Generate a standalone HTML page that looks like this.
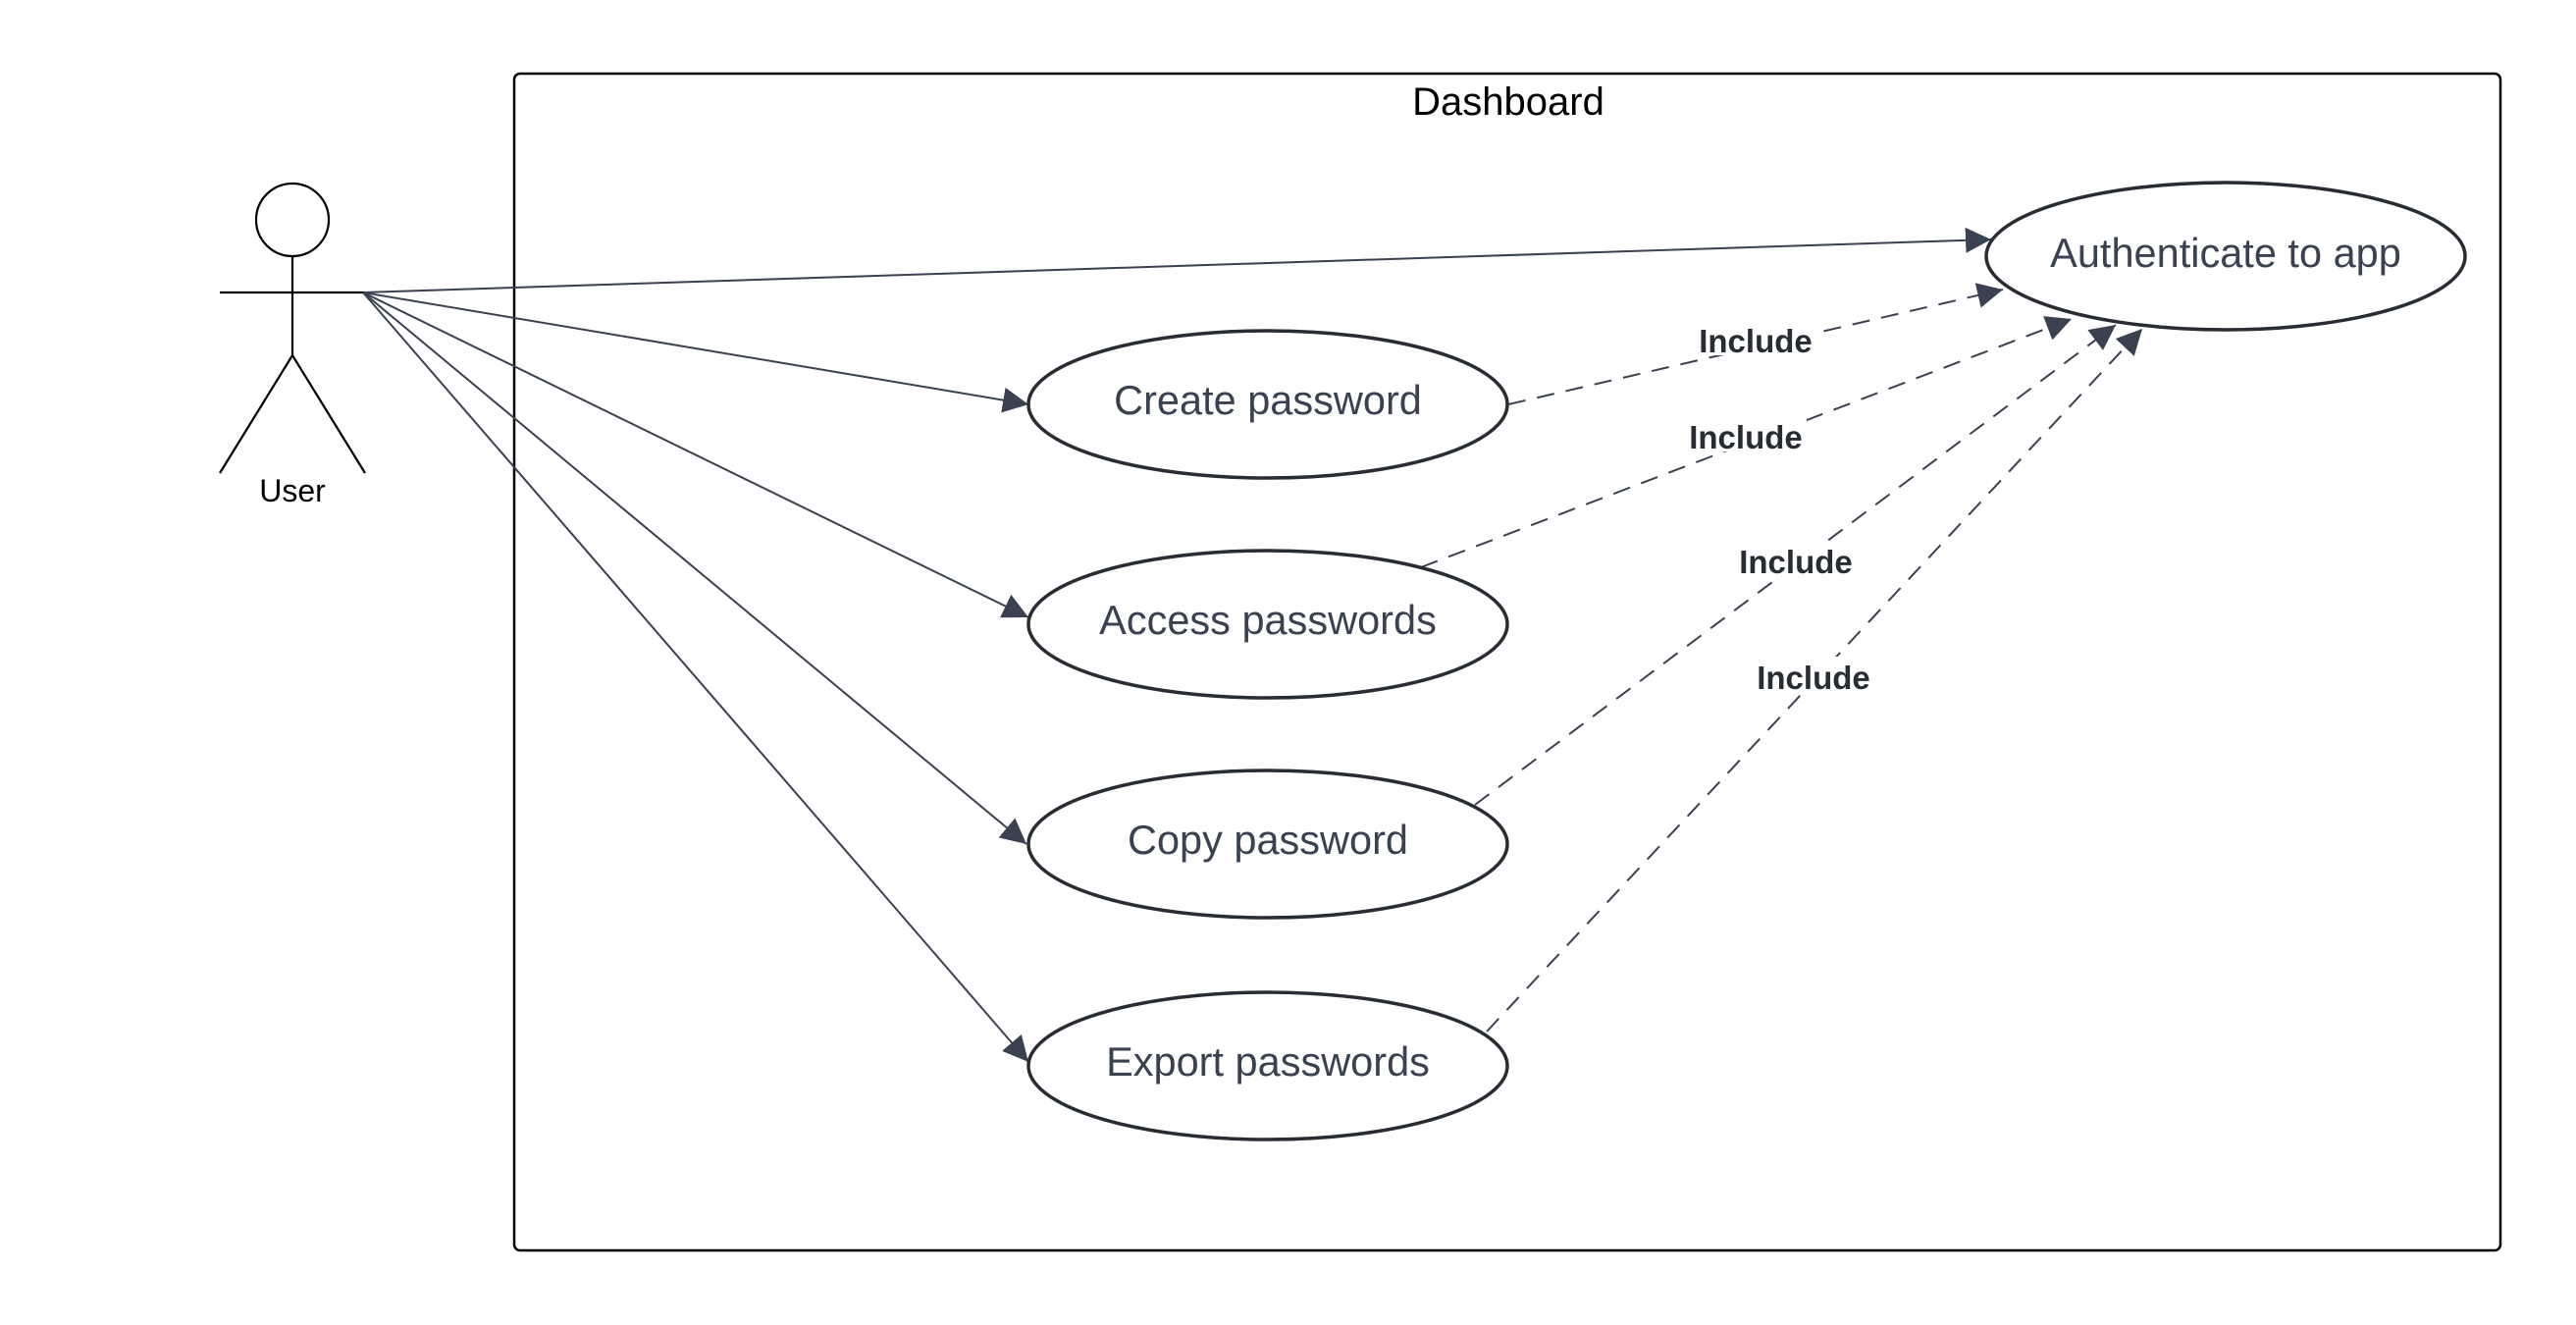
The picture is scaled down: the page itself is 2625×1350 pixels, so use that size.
<!DOCTYPE html>
<html><head><meta charset="utf-8"><style>
html,body{margin:0;padding:0;background:#fff;}
svg{display:block;}
text{font-family:"Liberation Sans",sans-serif;}
</style></head><body>
<svg width="2625" height="1350" viewBox="0 0 2625 1350" xmlns="http://www.w3.org/2000/svg">
<defs>
<marker id="a" viewBox="0 0 10 10" refX="10" refY="5" markerWidth="26" markerHeight="26" markerUnits="userSpaceOnUse" orient="auto"><path d="M0,0 L10,5 L0,10 z" fill="#3a4150"/></marker>
</defs>
<rect x="524" y="75" width="2024" height="1199" rx="6" fill="none" stroke="#000" stroke-width="2.5"/>
<text x="1537" y="117" font-size="40" text-anchor="middle" fill="#000">Dashboard</text>
<g stroke="#000" stroke-width="2.2" fill="none">
<circle cx="298" cy="224" r="37"/>
<line x1="298" y1="261" x2="298" y2="362"/>
<line x1="224" y1="298" x2="372" y2="298"/>
<line x1="298" y1="362" x2="224" y2="482"/>
<line x1="298" y1="362" x2="372" y2="482"/>
</g>
<text x="298" y="511" font-size="32" text-anchor="middle" fill="#000">User</text>
<g stroke="#3a4150" stroke-width="2" fill="none" marker-end="url(#a)">
<line x1="370" y1="298" x2="2029" y2="244"/>
<line x1="370" y1="298" x2="1048" y2="412"/>
<line x1="370" y1="298" x2="1048" y2="629"/>
<line x1="370" y1="298" x2="1046" y2="860"/>
<line x1="370" y1="298" x2="1048" y2="1082"/>
</g>
<g stroke="#3a4150" stroke-width="2" fill="none" stroke-dasharray="18,12" marker-end="url(#a)">
<line x1="1537" y1="412" x2="2041" y2="295"/>
<line x1="1448" y1="578" x2="2111" y2="325"/>
<line x1="1503" y1="820" x2="2156" y2="331"/>
<line x1="1515" y1="1051" x2="2183" y2="335"/>
</g>
<g font-size="33" font-weight="bold" fill="#282c33" text-anchor="middle">
<rect x="1727" y="326" width="124" height="36" fill="#fff"/>
<text x="1789" y="359">Include</text>
<rect x="1717" y="424" width="124" height="36" fill="#fff"/>
<text x="1779" y="457">Include</text>
<rect x="1768" y="551" width="124" height="36" fill="#fff"/>
<text x="1830" y="584">Include</text>
<rect x="1786" y="669" width="124" height="36" fill="#fff"/>
<text x="1848" y="702">Include</text>
</g>
<g fill="#fff" stroke="#282c33" stroke-width="3.5">
<ellipse cx="2268" cy="261" rx="244" ry="75"/>
<ellipse cx="1292" cy="412" rx="244" ry="75"/>
<ellipse cx="1292" cy="636" rx="244" ry="75"/>
<ellipse cx="1292" cy="860" rx="244" ry="75"/>
<ellipse cx="1292" cy="1086" rx="244" ry="75"/>
</g>
<g font-size="41.5" fill="#3a4150" text-anchor="middle">
<text x="2268" y="272">Authenticate to app</text>
<text x="1292" y="422">Create password</text>
<text x="1292" y="646">Access passwords</text>
<text x="1292" y="870">Copy password</text>
<text x="1292" y="1096">Export passwords</text>
</g>
</svg>
</body></html>
